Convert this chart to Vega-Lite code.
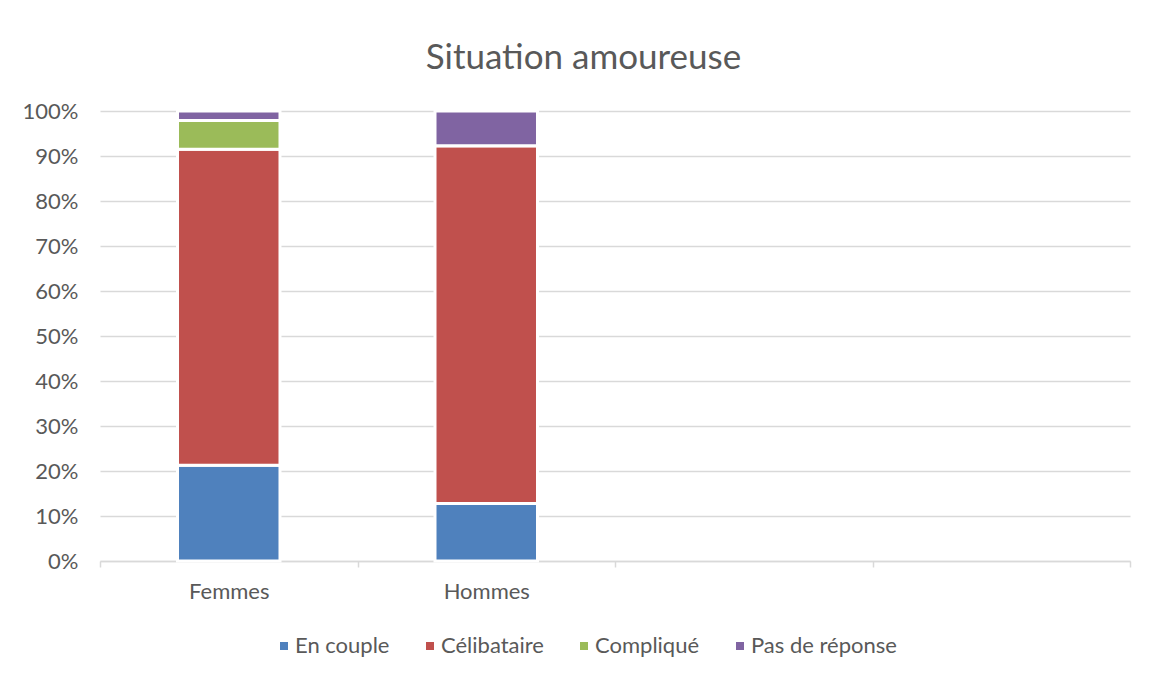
{
  "$schema": "https://vega.github.io/schema/vega-lite/v6.json",
  "autosize": {"type": "none"},
  "padding": {"left": 100, "top": 111, "right": 22, "bottom": 116},
  "width": 1030,
  "height": 450,
  "background": "white",
  "title": {
    "text": "Situation amoureuse",
    "font": "Lato",
    "fontSize": 35,
    "fontWeight": "normal",
    "color": "#595959",
    "anchor": "middle",
    "frame": "bounds",
    "offset": 24,
    "dx": 7
  },
  "data": {
    "values": [
      {"sexe": "Femmes", "situation": "En couple", "pct": 21.3},
      {"sexe": "Femmes", "situation": "Célibataire", "pct": 70.2},
      {"sexe": "Femmes", "situation": "Compliqué", "pct": 6.4},
      {"sexe": "Femmes", "situation": "Pas de réponse", "pct": 2.1},
      {"sexe": "Hommes", "situation": "En couple", "pct": 12.8},
      {"sexe": "Hommes", "situation": "Célibataire", "pct": 79.5},
      {"sexe": "Hommes", "situation": "Compliqué", "pct": 0},
      {"sexe": "Hommes", "situation": "Pas de réponse", "pct": 7.7}
    ]
  },
  "transform": [
    {"calculate": "indexof(['En couple', 'Célibataire', 'Compliqué', 'Pas de réponse'], datum.situation)", "as": "rang"}
  ],
  "mark": {"type": "bar", "stroke": "white", "strokeWidth": 3, "width": {"band": 0.398}},
  "encoding": {
    "x": {
      "field": "sexe",
      "type": "nominal",
      "scale": {"domain": ["Femmes", "Hommes", "c3", "c4"], "paddingInner": 0, "paddingOuter": 0},
      "axis": {
        "title": null,
        "labelAngle": 0,
        "labelExpr": "datum.value == 'Femmes' || datum.value == 'Hommes' ? datum.value : ''",
        "labelFont": "Lato",
        "labelFontSize": 22,
        "labelColor": "#595959",
        "labelPadding": 14,
        "tickBand": "extent",
        "tickSize": 6,
        "tickColor": "#d9d9d9",
        "domainColor": "#d9d9d9",
        "domainWidth": 1.5,
        "tickWidth": 1.5,
        "grid": false
      }
    },
    "y": {
      "field": "pct",
      "type": "quantitative",
      "stack": "zero",
      "scale": {"domain": [0, 100], "nice": false},
      "axis": {
        "title": null,
        "values": [0, 10, 20, 30, 40, 50, 60, 70, 80, 90, 100],
        "labelExpr": "datum.value + '%'",
        "labelFont": "Lato",
        "labelFontSize": 22,
        "labelColor": "#595959",
        "labelPadding": 22,
        "ticks": false,
        "domain": false,
        "grid": true,
        "gridColor": "#d9d9d9",
        "gridWidth": 1.5
      }
    },
    "color": {
      "field": "situation",
      "type": "nominal",
      "sort": ["En couple", "Célibataire", "Compliqué", "Pas de réponse"],
      "scale": {
        "domain": ["En couple", "Célibataire", "Compliqué", "Pas de réponse"],
        "range": ["#4F81BD", "#C0504D", "#9BBB59", "#8064A2"]
      },
      "legend": {
        "title": null,
        "orient": "none",
        "direction": "horizontal",
        "legendX": 173,
        "legendY": 524,
        "symbolType": "square",
        "symbolSize": 64,
        "symbolStrokeWidth": 0,
        "labelFont": "Lato",
        "labelFontSize": 22,
        "labelColor": "#595959",
        "labelOffset": 0,
        "columnPadding": 29
      }
    },
    "order": {"field": "rang", "type": "quantitative", "sort": "ascending"}
  },
  "config": {"view": {"stroke": null}}
}
